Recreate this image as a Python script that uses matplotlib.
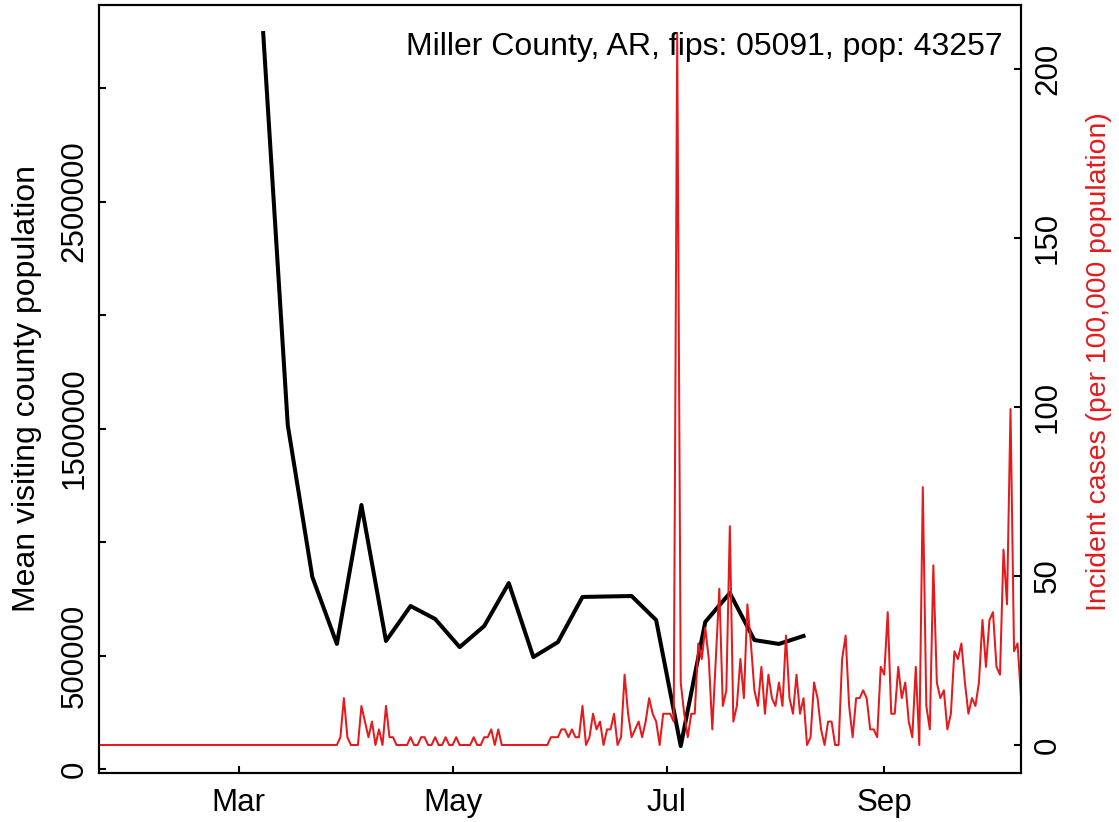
import matplotlib
matplotlib.use('Agg')
import matplotlib.pyplot as plt
import matplotlib.dates as mdates
import numpy as np
import pandas as pd

plt.rcParams['font.family'] = ['Liberation Sans', 'DejaVu Sans']

W, H = 1119, 822

county_label = 'Miller County, AR, fips: 05091, pop: 43257'
county_pop = 43257

# weekly mean visiting population (black)
visit_weeks = pd.date_range('2020-03-08', periods=23, freq='7D')
mean_visiting = [3242000, 1515000, 846000, 551000, 1163000, 564000, 718000,
                 661000, 537000, 630000, 819000, 493000, 559000, 758000,
                 760000, 762000, 656000, 101000, 648000, 775000, 568000,
                 551000, 586000]

# daily new cases (red), starting 2020-01-21
daily_cases = [0] * 69 + [
    1, 6, 1, 0, 0, 0, 5, 3, 1, 3, 0, 2, 0, 5, 1, 1, 0, 0, 0, 0,
    1, 0, 0, 1, 1, 0, 0, 1, 0, 0, 1, 0, 0, 1, 0, 0, 0, 0, 1, 0,
    0, 1, 1, 2, 0, 2, 0, 0, 0, 0, 0, 0, 0, 0, 0, 0, 0, 0, 0, 0,
    1, 1, 1, 2, 2, 1, 2, 1, 1, 5, 0, 1, 4, 2, 3, 0, 2, 2, 4, 0,
    1, 9, 4, 1, 2, 3, 1, 3, 6, 4, 3, 0, 4, 4, 4, 3, 91, 8, 4, 1,
    4, 4, 13, 11, 15, 11, 2, 11, 20, 5, 7, 28, 3, 5, 11, 6, 18, 13, 7, 5,
    10, 4, 9, 6, 5, 8, 5, 14, 6, 4, 9, 4, 6, 0, 1, 8, 6, 2, 0, 3,
    3, 0, 0, 11, 14, 5, 1, 6, 6, 7, 6, 2, 2, 1, 10, 9, 17, 4, 4, 10,
    6, 8, 3, 1, 10, 0, 33, 5, 2, 23, 8, 6, 7, 2, 4, 12, 11, 13, 8, 4,
    6, 5, 8, 16, 10, 16, 17, 10, 9, 25, 18, 43, 12, 13, 6]
case_days = pd.date_range('2020-01-21', periods=len(daily_cases), freq='D')
incidence = np.array(daily_cases) * 1e5 / county_pop

left_ticks = [0, 500000, 1000000, 1500000, 2000000, 2500000, 3000000]
left_labels = ['0', '500000', '', '1500000', '', '2500000', '']
right_ticks = [0, 50, 100, 150, 200]

red = '#E41A1C'

fig = plt.figure(figsize=(W / 100, H / 100), dpi=100)
ax = fig.add_axes([99 / W, 1 - 773 / H, (1020.7 - 99) / W, (773 - 5) / H])

ax.plot(visit_weeks, mean_visiting, color='black', lw=2.9)

mar1 = mdates.date2num(pd.Timestamp('2020-03-01'))
ax.set_xlim(mar1 - 39.8, mar1 + 222.9)
ax.set_ylim(-17621, 3365639)
ax.set_yticks(left_ticks)
ax.set_yticklabels(left_labels)
ax.xaxis.set_major_locator(mdates.MonthLocator(bymonth=[3, 5, 7, 9]))
ax.xaxis.set_major_formatter(mdates.DateFormatter('%b'))
ax.tick_params(axis='y', direction='in', length=5.3, width=1.5,
               labelsize=22.5, pad=7.0, labelrotation=90)
ax.tick_params(axis='x', direction='in', length=5.3, width=1.5,
               labelsize=22.5, pad=11.0)
for lbl in ax.get_yticklabels():
    lbl.set_va('center')

ax.text(1003 / W, 1 - 55 / H, county_label, transform=fig.transFigure,
        ha='right', va='baseline', fontsize=23.0)

ax2 = ax.twinx()
ax2.plot(case_days, incidence, color=red, lw=1.45)
ax2.set_ylim(-8.28, 218.93)
ax2.set_yticks(right_ticks)
ax2.tick_params(axis='y', direction='in', length=5.3, width=1.5,
                labelsize=22.5, pad=8.8, labelrotation=90)
for lbl in ax2.get_yticklabels():
    lbl.set_va('center')

for a in (ax, ax2):
    for s in a.spines.values():
        s.set_linewidth(1.5)

fig.text(27 / W, 1 - 389 / H, 'Mean visiting county population',
         rotation=90, ha='center', va='center', fontsize=23)
fig.text(1098.5 / W, 1 - 362 / H, 'Incident cases (per 100,000 population)',
         rotation=90, ha='center', va='center', fontsize=20.4, color=red)

fig.savefig('out.png', dpi=100, facecolor='white')
